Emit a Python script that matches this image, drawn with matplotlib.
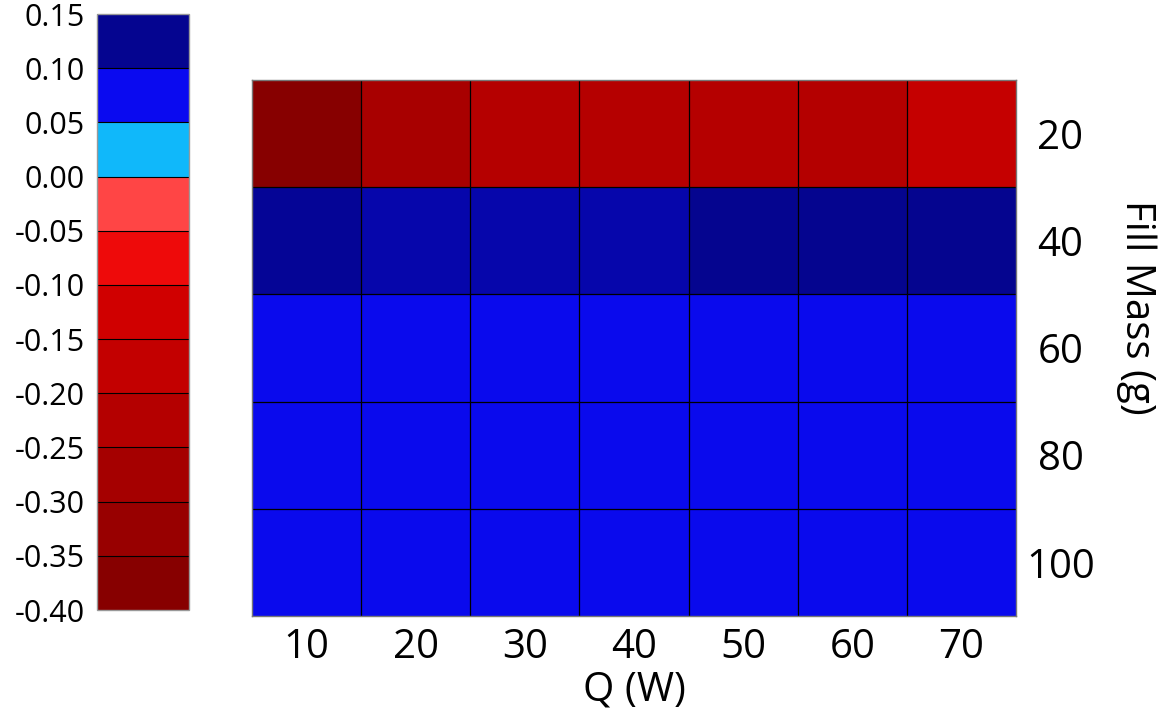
import numpy as np
import matplotlib
matplotlib.use("Agg")
import matplotlib.pyplot as plt
from matplotlib.colors import ListedColormap, BoundaryNorm, LinearSegmentedColormap, Normalize
from matplotlib.cm import ScalarMappable

plt.rcParams['font.family'] = ['Open Sans', 'DejaVu Sans']

# data
q_watts = [10, 20, 30, 40, 50, 60, 70]
fill_mass = [20, 40, 60, 80, 100]
values = np.array([
    [-0.375, -0.265, -0.22, -0.22, -0.22, -0.225, -0.17],
    [0.12, 0.11, 0.11, 0.11, 0.125, 0.125, 0.125],
    [0.075, 0.075, 0.075, 0.075, 0.075, 0.075, 0.075],
    [0.075, 0.075, 0.075, 0.075, 0.075, 0.075, 0.075],
    [0.075, 0.075, 0.075, 0.075, 0.075, 0.075, 0.075],
])

# colour bands of the colorbar, bottom to top
band_edges = [-0.40, -0.35, -0.30, -0.25, -0.20, -0.15, -0.10, -0.05, 0.00, 0.05, 0.10, 0.15]
band_colors = ['#870000', '#980000', '#a50000', '#b40000', '#c30000', '#d00000',
               '#ee0a0a', '#ff4545', '#10b8fa', '#0a0af0', '#050590']
cbar_ticks = [0.15, 0.10, 0.05, 0.00, -0.05, -0.10, -0.15, -0.20, -0.25, -0.30, -0.35, -0.40]

vmin, vmax = band_edges[0], band_edges[-1]

# smooth map through the band centres for the cells
centres = [(a + b) / 2 for a, b in zip(band_edges[:-1], band_edges[1:])]
nodes = [(0.0, '#800000')] + [((c - vmin) / (vmax - vmin), col) for c, col in zip(centres, band_colors)] + [(1.0, '#000080')]
cell_cmap = LinearSegmentedColormap.from_list('cells', nodes)

fig = plt.figure(figsize=(11.63, 7.19), dpi=100)

W, H = 1163, 719
ax = fig.add_axes([252 / W, 1 - 616 / H, 764 / W, 536 / H])
cax = fig.add_axes([97 / W, 1 - 610 / H, 92 / W, 596 / H])

# heatmap
x_edges = np.arange(len(q_watts) + 1)
y_edges = np.arange(len(fill_mass) + 1)
ax.pcolormesh(x_edges, y_edges, values, cmap=cell_cmap, norm=Normalize(vmin, vmax))
ax.set_xlim(0, len(q_watts))
ax.set_ylim(len(fill_mass), 0)

# thin black cell borders
ax.set_xticks(x_edges[1:-1], minor=True)
ax.set_yticks(y_edges[1:-1], minor=True)
ax.grid(which='minor', color='black', linewidth=0.9)
ax.tick_params(which='minor', length=0)

ax.set_xticks(np.arange(len(q_watts)) + 0.5)
ax.set_xticklabels([str(v) for v in q_watts], fontsize=29)
ax.set_yticks(np.arange(len(fill_mass)) + 0.5)
ax.set_yticklabels([str(v) for v in fill_mass], fontsize=29, ha='center')
ax.yaxis.tick_right()
ax.tick_params(axis='x', which='major', length=0, pad=8)
ax.tick_params(axis='y', which='major', length=0, pad=32)
for s in ax.spines.values():
    s.set_color('#777777')
    s.set_linewidth(1.0)

ax.set_xlabel('Q (W)', fontsize=29)
ax.xaxis.set_label_coords(0.5, -0.1)
ax.text(1.158, 0.575, 'Fill Mass (g)', transform=ax.transAxes, rotation=270,
        ha='center', va='center', fontsize=29)

# discrete colorbar
band_cmap = ListedColormap(band_colors)
band_norm = BoundaryNorm(band_edges, band_cmap.N)
cb = fig.colorbar(ScalarMappable(norm=band_norm, cmap=band_cmap), cax=cax,
                  boundaries=band_edges, ticks=cbar_ticks, spacing='uniform', drawedges=True)
cb.dividers.set_color('black')
cb.dividers.set_linewidth(0.8)
cb.outline.set_edgecolor('#999999')
cb.outline.set_linewidth(1.0)
cax.yaxis.set_ticks_position('left')
cax.set_yticklabels(['%.2f' % t for t in cbar_ticks])
cax.tick_params(length=0, pad=9, labelsize=22)

fig.savefig('out.png', dpi=100)
